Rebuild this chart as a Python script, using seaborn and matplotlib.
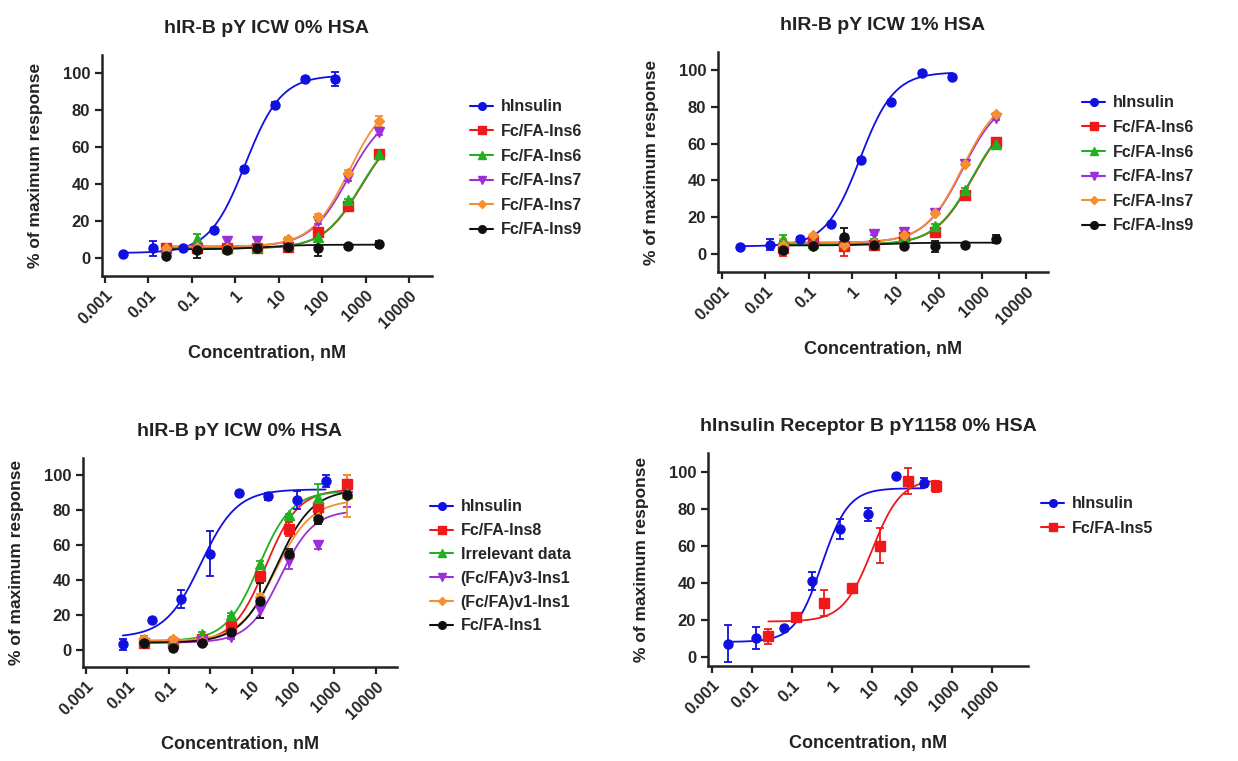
import numpy as np
import pandas as pd
import matplotlib
matplotlib.use("Agg")
import matplotlib.pyplot as plt
from matplotlib.lines import Line2D
import seaborn as sns

# ---- data ----
# concentrations (nM), 5-fold dilution series
conc_ins = [0.00256, 0.0128, 0.064, 0.32, 1.6, 8, 40, 200]
conc_fc = [0.0256, 0.128, 0.64, 3.2, 16, 80, 400, 2000]
conc_ins_c = [0.0078, 0.039, 0.195, 0.977, 4.88, 24.4, 122, 610]
conc_ins_d = [0.00256, 0.0128, 0.064, 0.32, 1.6, 8, 40, 200]
conc_fc_d = [0.0256, 0.128, 0.64, 3.2, 16, 80, 400]

# panel A: hIR-B pY ICW 0% HSA
a_ins = [2, 5, 5, 15, 48, 83, 97, 97]
a_ins_err = [0.5, 4, 1, 1, 1, 1.5, 1, 4]
a_ins6r = [5, 5, 5, 5, 6, 14, 28, 56]
a_ins6r_err = [1, 1, 1, 1.5, 1.5, 1.5, 1.5, 1.5]
a_ins6g = [5, 10, 5, 6, 7, 11, 31, 56]
a_ins6g_err = [1, 3, 1, 1, 1, 2, 1, 1]
a_ins7p = [1, 5, 9, 9, 8, 20, 43, 68]
a_ins7p_err = [1, 1, 1.5, 1.5, 1, 1.5, 1.5, 1.5]
a_ins7o = [5, 6, 5, 6, 10, 22, 46, 74]
a_ins7o_err = [1, 1, 1, 1, 1, 1.5, 1.5, 3]
a_ins9 = [1, 4, 4, 5, 6, 5, 6.5, 7.5]
a_ins9_err = [1, 4, 1, 1, 1, 4, 0.5, 1.5]

# panel B: hIR-B pY ICW 1% HSA
b_ins = [3.5, 5, 8, 16, 51, 83, 98.5, 96.5]
b_ins_err = [0.5, 3, 1, 1, 1, 1, 1, 1]
b_ins6r = [3, 7, 4, 5, 9, 12, 32, 61]
b_ins6r_err = [4, 2, 5, 1.5, 2, 2, 2, 2]
b_ins6g = [8, 6, 7, 7, 9, 15, 35, 60]
b_ins6g_err = [2, 1, 1, 1, 1, 1, 1, 1]
b_ins7p = [2, 4, 6, 11, 12, 22, 49, 74]
b_ins7p_err = [2, 1, 1, 1, 1, 1, 1, 1]
b_ins7o = [5, 10, 5, 6, 10, 22, 49, 76]
b_ins7o_err = [3, 1, 1, 1, 1, 1, 1, 1]
b_ins9 = [2, 4, 9, 5, 4, 4, 4.5, 8]
b_ins9_err = [1, 1, 5, 1, 1, 3, 0.5, 2]

# panel C: hIR-B pY ICW 0% HSA (second set)
c_ins = [3, 17, 29, 55, 90, 88, 86, 97]
c_ins_err = [3, 1, 5, 13, 1, 2, 5, 3.5]
c_ins8 = [4, 4, 6, 13, 42, 69, 82, 95]
c_ins8_err = [1.5, 2, 1.5, 3, 2, 4, 3, 5]
c_irr = [5, 6, 9, 20, 49, 77, 87, 90]
c_irr_err = [3, 1, 1, 1, 2, 1, 8, 2]
c_v3 = [4, 4, 5, 7, 23, 51, 60, 88]
c_v3_err = [1, 1, 1, 1, 5, 5, 2.5, 6]
c_v1 = [6, 6, 5, 10, 30, 55, 76, 88]
c_v1_err = [1, 1, 1, 1, 2, 3, 3, 12]
c_ins1 = [4, 1, 4, 10, 28, 55, 75, 89]
c_ins1_err = [1, 2, 1, 1, 10, 3, 3, 2]

# panel D: hInsulin Receptor B pY1158 0% HSA
d_ins = [7, 10, 15.5, 41, 69, 77, 97.5, 94]
d_ins_err = [10, 6, 1, 5, 5.5, 3.5, 0.5, 2.5]
d_ins5 = [11, 21.5, 29, 37, 60, 95, 92]
d_ins5_err = [4, 1, 7, 1, 9.5, 7, 3]

# fitted 4PL curve parameters (bottom, top, EC50, hill)
a_fit = [(2.5, 99, 1.7, 1.05), (5, 72, 780, 1), (5, 72, 760, 1),
         (6, 80, 395, 1), (6, 88, 415, 1), (4.5, 7, 5, 1)]
b_fit = [(4, 99, 1.5, 1.1), (5, 78, 600, 1), (5, 78, 580, 1),
         (6, 86, 348, 1), (6, 88, 350, 1), (4.5, 6, 5, 1)]
c_fit = [(7, 92, 0.6, 1.0), (4, 92, 22, 1.1), (5, 91, 15, 1.1),
         (4, 80, 50, 1.1), (5, 86, 38, 1.0), (4, 92, 40, 1.0)]
d_fit = [(8, 91, 0.55, 1.3), (19, 96, 10, 1.2)]

titles = ["hIR-B pY ICW 0% HSA", "hIR-B pY ICW 1% HSA",
          "hIR-B pY ICW 0% HSA", "hInsulin Receptor B pY1158 0% HSA"]
names_ab = ["hInsulin", "Fc/FA-Ins6", "Fc/FA-Ins6", "Fc/FA-Ins7", "Fc/FA-Ins7", "Fc/FA-Ins9"]
names_c = ["hInsulin", "Fc/FA-Ins8", "Irrelevant data", "(Fc/FA)v3-Ins1",
           "(Fc/FA)v1-Ins1", "Fc/FA-Ins1"]
names_d = ["hInsulin", "Fc/FA-Ins5"]
tick_vals = [0.001, 0.01, 0.1, 1, 10, 100, 1000, 10000]
tick_labels = ["0.001", "0.01", "0.1", "1", "10", "100", "1000", "10000"]

colors = ["#1010e0", "#f01818", "#20b020", "#9b30d8", "#f59030", "#101010"]
markers = ["o", "s", "^", "v", "D", "o"]
msizes = [6.5, 6.5, 6.5, 6.5, 5, 6.5]


def four_pl(x, bottom, top, ec50, hill):
    return bottom + (top - bottom) / (1 + (ec50 / x) ** hill)


sns.set_style("ticks")
plt.rcParams["font.family"] = ["Liberation Sans", "DejaVu Sans"]
plt.rcParams["font.weight"] = "bold"

W, H = 1238, 761
fig = plt.figure(figsize=(W / 100, H / 100), dpi=100)


def px_axes(left, top, right, bottom):
    return fig.add_axes([left / W, 1 - bottom / H, (right - left) / W, (bottom - top) / H])


def draw_panel(ax, concs, ys, errs, fits, names, title, xlim, ylim, leg_xy, leg_space):
    rows = []
    for name, c, p in zip(names, concs, fits):
        xs = np.geomspace(min(c), max(c), 200)
        for x in xs:
            rows.append({"conc": x, "resp": four_pl(x, *p), "series": name + str(len(rows) // 200)})
    df = pd.DataFrame(rows)
    keys = list(dict.fromkeys(df["series"]))
    sns.lineplot(data=df, x="conc", y="resp", hue="series", hue_order=keys,
                 palette=colors[:len(keys)], estimator=None, sort=False,
                 linewidth=1.3, legend=False, ax=ax)
    handles = []
    for i, (c, y, e) in enumerate(zip(concs, ys, errs)):
        ax.errorbar(c, y, yerr=e, fmt=markers[i], color=colors[i], ms=msizes[i],
                    elinewidth=1.3, capsize=3, capthick=1.3, zorder=3)
        handles.append(Line2D([0], [0], color=colors[i], marker=markers[i],
                              ms=msizes[i] - 1, lw=1.5))
    ax.set_xscale("log")
    ax.set_xlim(*xlim)
    ax.set_ylim(*ylim)
    ax.set_xticks(tick_vals)
    ax.set_xticklabels(tick_labels, rotation=45, ha="right", rotation_mode="anchor",
                       fontsize=12, fontweight="bold")
    ax.xaxis.set_minor_locator(matplotlib.ticker.NullLocator())
    ax.set_yticks([0, 20, 40, 60, 80, 100])
    ax.set_yticklabels(["0", "20", "40", "60", "80", "100"], fontsize=12, fontweight="bold")
    ax.tick_params(width=1.6, length=5, color="#222222")
    for s in ["left", "bottom"]:
        ax.spines[s].set_linewidth(1.8)
        ax.spines[s].set_color("#222222")
    sns.despine(ax=ax)
    ax.set_title(title, fontsize=14, fontweight="bold", pad=16, color="#222222")
    ax.set_xlabel("Concentration, nM", fontsize=13, fontweight="bold", labelpad=10, color="#222222")
    ax.set_ylabel("% of maximum response", fontsize=12.5, fontweight="bold", labelpad=14, color="#222222")
    fig.legend(handles, names, loc="upper left",
               bbox_to_anchor=(leg_xy[0] / W, 1 - leg_xy[1] / H),
               frameon=False, handlelength=1.4, handletextpad=0.5,
               labelspacing=leg_space, borderaxespad=0,
               prop={"size": 11.5, "weight": "bold"})


ax1 = px_axes(102, 55, 432, 276)
draw_panel(ax1, [conc_ins] + [conc_fc] * 5,
           [a_ins, a_ins6r, a_ins6g, a_ins7p, a_ins7o, a_ins9],
           [a_ins_err, a_ins6r_err, a_ins6g_err, a_ins7p_err, a_ins7o_err, a_ins9_err],
           a_fit, names_ab, titles[0], (10 ** -3.07, 10 ** 4.53), (-10, 110), (464, 93), 0.6)

ax2 = px_axes(718, 52, 1048, 272)
draw_panel(ax2, [conc_ins] + [conc_fc] * 5,
           [b_ins, b_ins6r, b_ins6g, b_ins7p, b_ins7o, b_ins9],
           [b_ins_err, b_ins6r_err, b_ins6g_err, b_ins7p_err, b_ins7o_err, b_ins9_err],
           b_fit, names_ab, titles[1], (10 ** -3.09, 10 ** 4.51), (-10, 110), (1076, 89), 0.6)

ax3 = px_axes(83, 458, 397, 667)
draw_panel(ax3, [conc_ins_c] + [conc_fc] * 5,
           [c_ins, c_ins8, c_irr, c_v3, c_v1, c_ins1],
           [c_ins_err, c_ins8_err, c_irr_err, c_v3_err, c_v1_err, c_ins1_err],
           c_fit, names_c, titles[2], (10 ** -3.07, 10 ** 4.51), (-10, 110), (424, 493), 0.55)

ax4 = px_axes(708, 453, 1028, 666)
draw_panel(ax4, [conc_ins_d, conc_fc_d], [d_ins, d_ins5], [d_ins_err, d_ins5_err],
           d_fit, names_d, titles[3], (10 ** -3.1, 10 ** 4.9), (-5, 110), (1035, 490), 0.6)

fig.savefig("out.png", dpi=100, facecolor="white")
